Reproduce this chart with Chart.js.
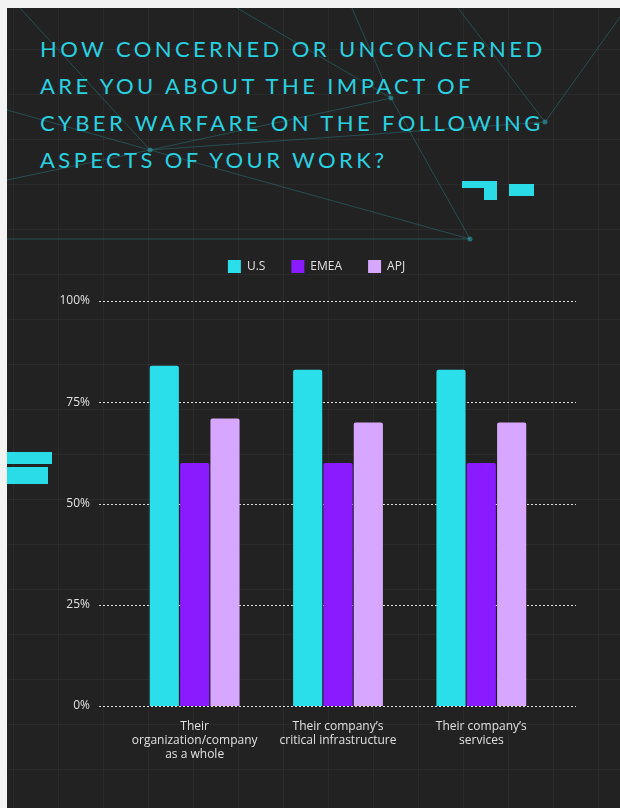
<!DOCTYPE html>
<html lang="en">
<head>
    <meta charset="UTF-8">
    <title>Cyber warfare concern</title>
    <script src="https://cdn.jsdelivr.net/npm/chart.js"></script>
    <style>
        body {
            margin: 0;
            padding: 0;
            width: 620px;
            height: 808px;
            background-color: #f3f3f3;
            overflow: hidden;
            font-family: 'Lato', sans-serif;
        }

        /* dark panel with faint square grid */
        #panel {
            position: absolute;
            left: 7px;
            top: 8px;
            width: 613px;
            height: 800px;
            background-color: #222222;
            background-image:
                linear-gradient(to right, rgba(255,255,255,0.035) 1px, transparent 1px),
                linear-gradient(to bottom, rgba(255,255,255,0.035) 1px, transparent 1px);
            background-size: 45px 45px;
            background-position: 6px 41px;
        }

        #deco {
            position: absolute;
            left: 0;
            top: 0;
        }

        h1 {
            position: absolute;
            left: 40px;
            top: 30px;
            margin: 0;
            font-size: 22px;
            font-weight: 400;
            line-height: 37px;
            letter-spacing: 3.4px;
            color: #2ad1e0;
        }

        .blk {
            position: absolute;
            background-color: #2adbe8;
        }

        #grafico {
            position: absolute;
            left: 0;
            top: 0;
        }
    </style>
</head>
<body>
    <div id="panel"></div>
    <!-- decorative network lines behind the title -->
    <svg id="deco" width="620" height="808">
        <g stroke="rgba(45,160,170,0.35)" stroke-width="1" fill="none">
            <line x1="20" y1="8" x2="150" y2="150"/>
            <line x1="7" y1="110" x2="150" y2="150"/>
            <line x1="7" y1="180" x2="150" y2="150"/>
            <line x1="150" y1="150" x2="391" y2="98"/>
            <line x1="150" y1="150" x2="545" y2="122"/>
            <line x1="150" y1="150" x2="470" y2="239"/>
            <line x1="237" y1="8" x2="391" y2="98"/>
            <line x1="352" y1="8" x2="391" y2="98"/>
            <line x1="391" y1="98" x2="470" y2="239"/>
            <line x1="458" y1="8" x2="545" y2="122"/>
            <line x1="545" y1="122" x2="620" y2="17"/>
            <line x1="7" y1="239" x2="470" y2="239"/>
        </g>
        <g fill="rgba(45,160,170,0.6)">
            <circle cx="150" cy="150" r="2.5"/>
            <circle cx="391" cy="98" r="2.5"/>
            <circle cx="545" cy="122" r="2.5"/>
            <circle cx="470" cy="239" r="2.5"/>
        </g>
    </svg>

    <h1>HOW CONCERNED OR UNCONCERNED<br>ARE YOU ABOUT THE IMPACT OF<br>CYBER WARFARE ON THE FOLLOWING<br>ASPECTS OF YOUR WORK?</h1>

    <!-- cyan blocks -->
    <div class="blk" style="left:462px; top:181px; width:35px; height:7px;"></div>
    <div class="blk" style="left:484px; top:181px; width:13px; height:19px;"></div>
    <div class="blk" style="left:509px; top:184px; width:25px; height:12px;"></div>
    <div class="blk" style="left:7px; top:452px; width:45px; height:12px;"></div>
    <div class="blk" style="left:7px; top:467px; width:41px; height:17px;"></div>

    <canvas id="grafico" width="620" height="808"></canvas>

    <script>
        // Dati
        const categorie = [
            ["Their", "organization/company", "as a whole"],
            ["Their company\u2019s", "critical infrastructure"],
            ["Their company\u2019s", "services"]
        ];
        const serie = ["U.S", "EMEA", "APJ"];
        const valoriUS = [84, 83, 83];
        const valoriEMEA = [60, 60, 60];
        const valoriAPJ = [71, 70, 70];
        const tickY = [0, 25, 50, 75, 100];

        const colori = ["#2adfea", "#8a1aff", "#d7a7ff"];
        const coloreTesto = "#e0e0e0";
        const font = { family: "'Open Sans'", size: 12 };

        // Linee tratteggiate della griglia, un po' più larghe dell'area del grafico
        const grigliaEstesa = {
            id: 'grigliaEstesa',
            beforeDatasetsDraw(chart) {
                const { ctx, chartArea, scales } = chart;
                ctx.save();
                ctx.strokeStyle = 'rgba(255,255,255,0.85)';
                ctx.lineWidth = 1;
                ctx.setLineDash([2, 2]);
                tickY.forEach(v => {
                    const y = Math.round(scales.y.getPixelForValue(v)) + 0.5;
                    ctx.beginPath();
                    ctx.moveTo(chartArea.left - 24, y);
                    ctx.lineTo(chartArea.right + 23, y);
                    ctx.stroke();
                });
                ctx.restore();
            }
        };

        // Altezza fissa della legenda; l'asse y può disegnare le etichette fuori dal suo box
        const sistemaLayout = {
            id: 'sistemaLayout',
            beforeInit(chart) {
                const fitOriginale = chart.legend.fit;
                chart.legend.fit = function () {
                    fitOriginale.bind(chart.legend)();
                    this.height = 67;
                };
            },
            afterLayout(chart) {
                chart.scales.y.left = 0;
            }
        };

        const ctx = document.getElementById('grafico').getContext('2d');
        const chart = new Chart(ctx, {
            type: 'bar',
            data: {
                labels: categorie,
                datasets: [
                    { label: serie[0], data: valoriUS, backgroundColor: colori[0] },
                    { label: serie[1], data: valoriEMEA, backgroundColor: colori[1] },
                    { label: serie[2], data: valoriAPJ, backgroundColor: colori[2] }
                ]
            },
            options: {
                responsive: false,
                animation: false,
                layout: {
                    padding: { left: 80, right: 67, top: 234, bottom: 42 }
                },
                datasets: {
                    bar: {
                        barPercentage: 0.96,
                        categoryPercentage: 0.635,
                        borderRadius: 2
                    }
                },
                plugins: {
                    legend: {
                        position: 'top',
                        labels: {
                            color: coloreTesto,
                            boxWidth: 13,
                            boxHeight: 13,
                            padding: 26,
                            font: font
                        }
                    },
                    tooltip: { enabled: false }
                },
                scales: {
                    x: {
                        grid: { display: false },
                        border: { display: false },
                        ticks: {
                            color: coloreTesto,
                            padding: 5,
                            maxRotation: 0,
                            autoSkip: false,
                            font: { family: "'Open Sans'", size: 12, lineHeight: 1.18 }
                        },
                        afterFit(scale) { scale.height = 60; }
                    },
                    y: {
                        min: 0,
                        max: 100,
                        grid: { display: false, drawTicks: false },
                        border: { display: false },
                        afterBuildTicks(scale) {
                            scale.ticks = tickY.map(v => ({ value: v }));
                        },
                        ticks: {
                            color: coloreTesto,
                            padding: 33,
                            font: font,
                            callback: v => v + '%'
                        },
                        afterFit(scale) { scale.width = 43; }
                    }
                }
            },
            plugins: [grigliaEstesa, sistemaLayout]
        });
    </script>
</body>
</html>
